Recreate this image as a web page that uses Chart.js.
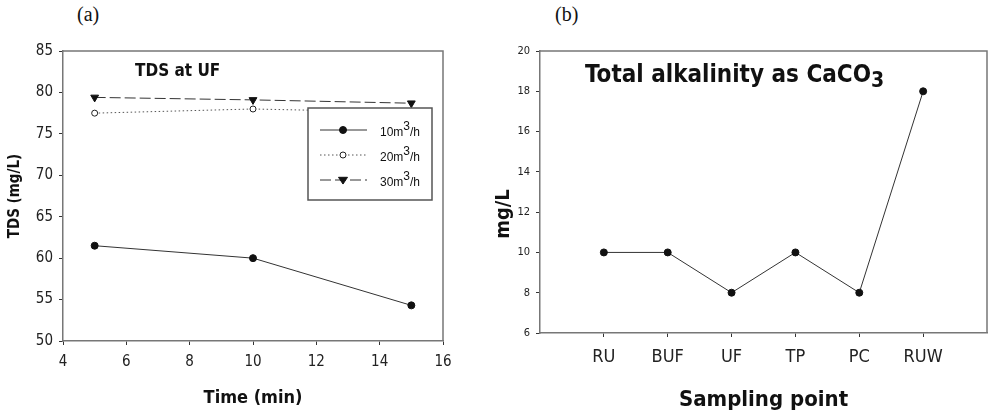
<!DOCTYPE html>
<html>
<head>
<meta charset="utf-8">
<script src="https://cdn.jsdelivr.net/npm/chart.js@4.4.1/dist/chart.umd.min.js"></script>
<style>
  html, body { margin: 0; padding: 0; background: #fff; }
  body { width: 992px; height: 415px; position: relative; overflow: hidden; }
  .panel { position: absolute; top: 0; height: 415px; }
  #wrapA { left: 0; width: 460px; }
  #wrapB { left: 490px; width: 502px; }
  .tag { position: absolute; top: 3px; font: 20px "Liberation Serif", "DejaVu Serif", serif; color: #111; }
</style>
</head>
<body>
<div class="tag" style="left:77px">(a)</div>
<div class="tag" style="left:555px">(b)</div>
<div class="panel" id="wrapA"><canvas id="chartA" width="460" height="415"></canvas></div>
<div class="panel" id="wrapB"><canvas id="chartB" width="502" height="415"></canvas></div>
<script>
// Panel (a): TDS after ultrafiltration at three flow rates
const timeMin = [5, 10, 15];
const tdsFlow10 = [61.5, 60.0, 54.3];
const tdsFlow20 = [77.5, 78.0, 77.6];
const tdsFlow30 = [79.4, 79.1, 78.7];
const flowRates = ['10', '20', '30'];
const timeTicks = [4, 6, 8, 10, 12, 14, 16];
const tdsTicks = [50, 55, 60, 65, 70, 75, 80, 85];

// Panel (b): total alkalinity along the treatment train
const samplingPoints = ['RU', 'BUF', 'UF', 'TP', 'PC', 'RUW'];
const alkalinity = [10, 10, 8, 10, 8, 18];
const alkTicks = [6, 8, 10, 12, 14, 16, 18, 20];

const COND = '"DejaVu Sans Condensed", "DejaVu Sans", sans-serif';
const AXIS = '#777';
const INK = '#222';

Chart.defaults.animation = false;
Chart.defaults.responsive = false;
Chart.defaults.devicePixelRatio = 1;

// Box around the plotting area (top and right sides)
const frame = {
  id: 'frame',
  beforeDatasetsDraw(chart) {
    const { ctx, chartArea: a } = chart;
    ctx.save();
    ctx.strokeStyle = AXIS;
    ctx.lineWidth = 1.5;
    ctx.beginPath();
    ctx.moveTo(a.left, a.top);
    ctx.lineTo(a.right, a.top);
    ctx.lineTo(a.right, a.bottom);
    ctx.stroke();
    ctx.restore();
  }
};

function drawMarker(ctx, style, x, y, r, fill, stroke) {
  ctx.save();
  ctx.fillStyle = fill;
  ctx.strokeStyle = stroke;
  ctx.lineWidth = 1;
  ctx.beginPath();
  if (style === 'triangle') {
    ctx.moveTo(x - r, y - r * 0.6);
    ctx.lineTo(x + r, y - r * 0.6);
    ctx.lineTo(x, y + r * 0.9);
    ctx.closePath();
  } else {
    ctx.arc(x, y, r, 0, Math.PI * 2);
  }
  ctx.fill();
  ctx.stroke();
  ctx.restore();
}

// Text with a raised or lowered "3"
function drawScripted(ctx, before, script, after, x, y, font, scriptFont, shift) {
  ctx.font = font;
  ctx.fillText(before, x, y);
  x += ctx.measureText(before).width;
  ctx.font = scriptFont;
  ctx.fillText(script, x, y + shift);
  x += ctx.measureText(script).width;
  ctx.font = font;
  if (after) ctx.fillText(after, x, y);
}

const legendBox = {
  id: 'legendBox',
  afterDatasetsDraw(chart) {
    const { ctx } = chart;
    const bx = 308, by = 108, bw = 124, bh = 92;
    ctx.save();
    ctx.fillStyle = '#fff';
    ctx.fillRect(bx, by, bw, bh);
    ctx.strokeStyle = '#555';
    ctx.lineWidth = 1.5;
    ctx.strokeRect(bx, by, bw, bh);
    chart.data.datasets.forEach((ds, i) => {
      const y = by + 22 + i * 25;
      ctx.save();
      ctx.strokeStyle = ds.borderColor;
      ctx.lineWidth = ds.borderWidth;
      ctx.setLineDash(ds.borderDash || []);
      ctx.beginPath();
      ctx.moveTo(bx + 12, y);
      ctx.lineTo(bx + 59, y);
      ctx.stroke();
      ctx.restore();
      drawMarker(ctx, ds.pointStyle, bx + 35, y, ds.pointRadius, ds.pointBackgroundColor, ds.pointBorderColor);
      ctx.fillStyle = '#111';
      ctx.textBaseline = 'alphabetic';
      drawScripted(ctx, flowRates[i] + 'm', '3', '/h', bx + 72, y + 6,
        '12px "Liberation Sans", Arial, sans-serif', '12px "Liberation Sans", Arial, sans-serif', -6);
    });
    ctx.fillStyle = '#111';
    ctx.font = 'bold 17px ' + COND;
    ctx.textBaseline = 'middle';
    ctx.fillText('TDS at UF', 135, 72);
    ctx.restore();
  }
};

const alkNotes = {
  id: 'alkNotes',
  afterDatasetsDraw(chart) {
    const { ctx } = chart;
    ctx.save();
    ctx.fillStyle = '#111';
    ctx.textBaseline = 'alphabetic';
    drawScripted(ctx, 'Total alkalinity as CaCO', '3', '', 95, 82,
      'bold 24px ' + COND, 'bold 21px ' + COND, 5);
    // vertical axis title
    ctx.translate(14, 214);
    ctx.rotate(-Math.PI / 2);
    ctx.font = 'bold 20px ' + COND;
    ctx.textAlign = 'center';
    ctx.textBaseline = 'middle';
    ctx.fillText('mg/L', 0, 0);
    ctx.restore();
  }
};

function axisGrid() {
  return { display: true, drawOnChartArea: false, drawTicks: true, tickLength: 4, color: '#333', lineWidth: 1 };
}

function series(xs, ys) { return xs.map((x, i) => ({ x, y: ys[i] })); }

new Chart(document.getElementById('chartA'), {
  type: 'line',
  data: {
    datasets: [
      { label: '10m3/h', data: series(timeMin, tdsFlow10), borderColor: '#333', borderWidth: 1,
        pointStyle: 'circle', pointRadius: 3.5, pointBackgroundColor: '#111', pointBorderColor: '#111', tension: 0 },
      { label: '20m3/h', data: series(timeMin, tdsFlow20), borderColor: '#555', borderWidth: 1, borderDash: [1.5, 2.5],
        pointStyle: 'circle', pointRadius: 3, pointBackgroundColor: '#fff', pointBorderColor: '#222', tension: 0 },
      { label: '30m3/h', data: series(timeMin, tdsFlow30), borderColor: '#333', borderWidth: 1, borderDash: [11, 4],
        pointStyle: 'triangle', rotation: 180, pointRadius: 4.5, pointBackgroundColor: '#111', pointBorderColor: '#111', tension: 0 }
    ]
  },
  options: {
    layout: { padding: { top: 51, right: 17, left: 0, bottom: 0 } },
    plugins: { legend: { display: false }, tooltip: { enabled: false } },
    scales: {
      x: {
        type: 'linear', min: timeTicks[0], max: timeTicks[timeTicks.length - 1],
        afterBuildTicks: s => { s.ticks = timeTicks.map(v => ({ value: v })); },
        afterFit: s => { s.height = 74; },
        ticks: { color: INK, font: { family: COND, size: 15 }, padding: 8, maxRotation: 0 },
        grid: axisGrid(),
        border: { color: AXIS, width: 1.5 },
        title: { display: true, text: 'Time (min)', color: '#111', font: { family: COND, size: 18, weight: 'bold' }, padding: { top: 0, bottom: 6 } }
      },
      y: {
        type: 'linear', min: tdsTicks[0], max: tdsTicks[tdsTicks.length - 1],
        afterBuildTicks: s => { s.ticks = tdsTicks.map(v => ({ value: v })); },
        afterFit: s => { s.width = 63; },
        ticks: { color: INK, font: { family: COND, size: 15 }, padding: 6 },
        grid: axisGrid(),
        border: { color: AXIS, width: 1.5 },
        title: { display: true, text: 'TDS (mg/L)', color: '#111', font: { family: COND, size: 15, weight: 'bold' }, padding: { top: 6, bottom: 0 } }
      }
    }
  },
  plugins: [frame, legendBox]
});

new Chart(document.getElementById('chartB'), {
  type: 'line',
  data: {
    datasets: [
      { label: 'Total alkalinity', data: samplingPoints.map((p, i) => ({ x: i + 1, y: alkalinity[i] })),
        borderColor: '#333', borderWidth: 1, pointStyle: 'circle', pointRadius: 3.5,
        pointBackgroundColor: '#111', pointBorderColor: '#111', tension: 0 }
    ]
  },
  options: {
    layout: { padding: { top: 51, right: 2, left: 0, bottom: 0 } },
    plugins: { legend: { display: false }, tooltip: { enabled: false } },
    scales: {
      x: {
        type: 'linear', min: 0, max: samplingPoints.length + 1,
        afterBuildTicks: s => { s.ticks = samplingPoints.map((p, i) => ({ value: i + 1 })); },
        afterFit: s => { s.height = 82; },
        ticks: { color: INK, font: { family: COND, size: 18 }, padding: 10, maxRotation: 0,
          callback: v => samplingPoints[v - 1] },
        grid: axisGrid(),
        border: { color: AXIS, width: 1.5 },
        title: { display: true, text: 'Sampling point', color: '#111', font: { family: COND, size: 22, weight: 'bold' }, padding: { top: 0, bottom: 2 } }
      },
      y: {
        type: 'linear', min: alkTicks[0], max: alkTicks[alkTicks.length - 1],
        afterBuildTicks: s => { s.ticks = alkTicks.map(v => ({ value: v })); },
        afterFit: s => { s.width = 50; },
        ticks: { color: INK, font: { family: COND, size: 11 }, padding: 6 },
        grid: axisGrid(),
        border: { color: AXIS, width: 1.5 },
        title: { display: false }
      }
    }
  },
  plugins: [frame, alkNotes]
});
</script>
</body>
</html>
